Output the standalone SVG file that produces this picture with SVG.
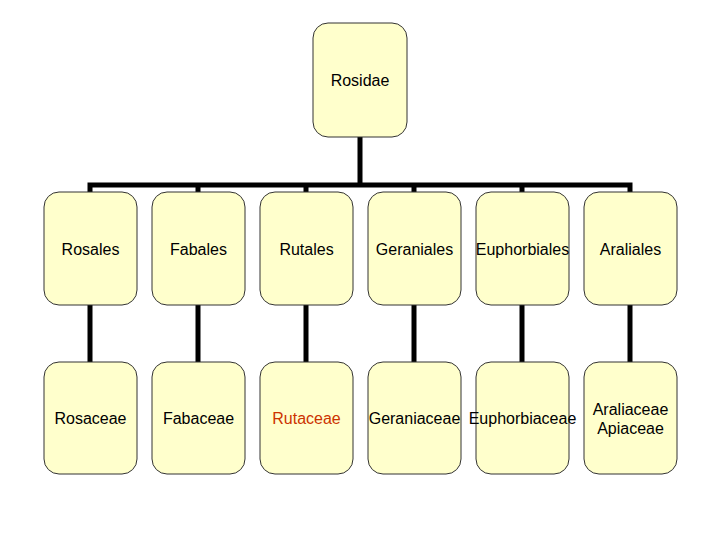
<svg xmlns="http://www.w3.org/2000/svg" width="720" height="540" viewBox="0 0 720 540">
<style>
.box{fill:#FFFFCC;stroke:#333;stroke-width:1}
.t{font-family:"Liberation Sans",Arial,sans-serif;font-size:16px;fill:#000;text-anchor:middle;dominant-baseline:central}
.red{fill:#CC3300}
.c{stroke:#000;stroke-width:5;fill:none}
</style>
<rect width="720" height="540" fill="#fff"/>
<g id="connectors">
<path class="c" d="M360 137V185M87.5 185H632.5M90 183V192M198 183V192M306 183V192M414 183V192M522 183V192M630 183V192"/>
<path class="c" d="M90 305V362M198 305V362M306 305V362M414 305V362M522 305V362M630 305V362"/>
</g>
<g id="rosidae"><rect class="box" x="313" y="23" width="94" height="114" rx="15"/><text class="t" x="360" y="80">Rosidae</text></g>
<g id="rosales"><rect class="box" x="44" y="192" width="93" height="113" rx="15"/><text class="t" x="90.5" y="249">Rosales</text></g>
<g id="fabales"><rect class="box" x="152" y="192" width="93" height="113" rx="15"/><text class="t" x="198.5" y="249">Fabales</text></g>
<g id="rutales"><rect class="box" x="260" y="192" width="93" height="113" rx="15"/><text class="t" x="306.5" y="249">Rutales</text></g>
<g id="geraniales"><rect class="box" x="368" y="192" width="93" height="113" rx="15"/><text class="t" x="414.5" y="249">Geraniales</text></g>
<g id="euphorbiales"><rect class="box" x="476" y="192" width="93" height="113" rx="15"/><text class="t" x="522.5" y="249">Euphorbiales</text></g>
<g id="araliales"><rect class="box" x="584" y="192" width="93" height="113" rx="15"/><text class="t" x="630.5" y="249">Araliales</text></g>
<g id="rosaceae"><rect class="box" x="44" y="362" width="93" height="112" rx="15"/><text class="t" x="90.5" y="418">Rosaceae</text></g>
<g id="fabaceae"><rect class="box" x="152" y="362" width="93" height="112" rx="15"/><text class="t" x="198.5" y="418">Fabaceae</text></g>
<g id="rutaceae"><rect class="box" x="260" y="362" width="93" height="112" rx="15"/><text class="t red" x="306.5" y="418">Rutaceae</text></g>
<g id="geraniaceae"><rect class="box" x="368" y="362" width="93" height="112" rx="15"/><text class="t" x="414.5" y="418">Geraniaceae</text></g>
<g id="euphorbiaceae"><rect class="box" x="476" y="362" width="93" height="112" rx="15"/><text class="t" x="522.5" y="418">Euphorbiaceae</text></g>
<g id="araliaceae"><rect class="box" x="584" y="362" width="93" height="112" rx="15"/><text class="t" x="630.5" y="409">Araliaceae</text><text class="t" x="630.5" y="428">Apiaceae</text></g>
</svg>
